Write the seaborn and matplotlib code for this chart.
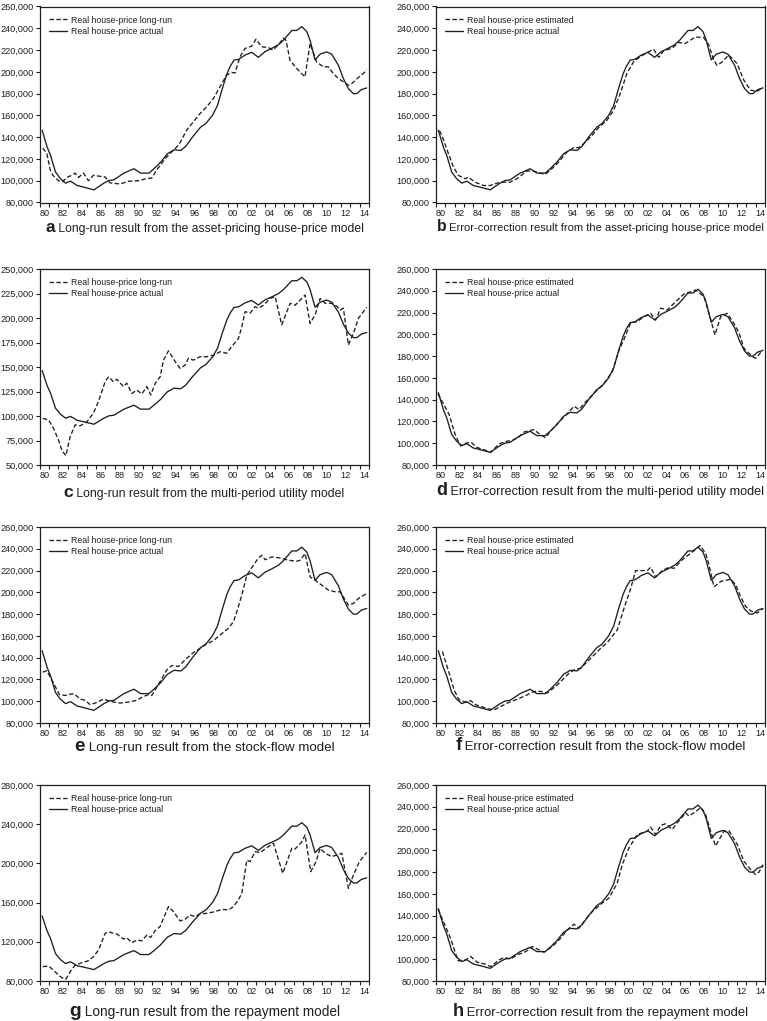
import matplotlib
matplotlib.use("Agg")
import matplotlib.pyplot as plt
import seaborn as sns
import numpy as np
from matplotlib.offsetbox import TextArea, HPacker, AnchoredOffsetbox
from matplotlib.ticker import FuncFormatter, FixedLocator

sns.set_style("ticks")
plt.rcParams["font.family"] = ["Liberation Sans", "DejaVu Sans"]

# ---------------- data (values in thousands of pounds) ----------------
actual_year = [1980.28, 1980.81, 1981.17, 1981.70, 1982.23, 1982.77, 1983.30, 1984.00, 1984.72, 1985.78,
               1986.84, 1987.38, 1987.90, 1988.97, 1990.03, 1990.74, 1991.63, 1992.16, 1992.87, 1993.58,
               1994.29, 1995.00, 1995.53, 1996.24, 1997.12, 1997.66, 1998.37, 1998.90, 1999.40, 1999.90,
               2000.25, 2000.66, 2001.15, 2001.83, 2002.54, 2003.25, 2003.95, 2004.66, 2005.40, 2005.91,
               2006.80, 2007.33, 2007.86, 2008.39, 2008.74, 2009.27, 2009.80, 2010.50, 2011.04, 2011.75,
               2012.28, 2012.81, 2013.34, 2013.70, 2014.20, 2014.76]
actual_value = [146.4, 131, 123.3, 108, 101.8, 97.8, 99.6, 95.6, 94.1, 91.6,
                97.8, 100.2, 100.8, 107, 111, 107, 107, 111, 117, 124.7,
                128.4, 127.8, 131.5, 140, 149.3, 152.4, 160, 169, 184, 198,
                205, 210.8, 211.4, 215.4, 217.9, 213.3, 218.5, 221.5, 225, 229,
                238, 238, 241.5, 237, 229, 211, 216.2, 218.3, 216.2, 206,
                193.8, 184.6, 180, 180, 183.7, 185.2]

# (a) asset-pricing, long-run
a_year = [1980.35, 1980.78, 1981.13, 1981.42, 1982.02, 1982.44, 1982.90, 1983.43, 1983.79, 1984.14,
          1984.67, 1985.20, 1985.73, 1986.44, 1986.97, 1987.50, 1988.57, 1989.45, 1990.51, 1991.40,
          1991.93, 1992.46, 1993.52, 1994.58, 1994.93, 1995.63, 1996.34, 1997.05, 1997.76, 1998.47,
          1999.17, 1999.88, 2000.41, 2000.77, 2001.30, 2001.83, 2002.54, 2003.00, 2003.60, 2004.30,
          2004.77, 2005.37, 2005.90, 2006.19, 2006.60, 2007.32, 2008.20, 2008.74, 2009.44, 2010.15,
          2010.68, 2011.20, 2011.75, 2012.28, 2012.81, 2013.16, 2013.87, 2014.40, 2014.76]
a_value = [130, 125, 110, 105, 100, 99, 103, 105, 107, 103,
           107, 100, 105, 104, 103.5, 98, 97, 99.5, 100, 102,
           102.5, 110, 122, 131, 135, 146.4, 154, 161.7, 167.9, 175.5,
           186.3, 197, 199.4, 199, 213.8, 221.5, 223.6, 230, 223, 222.4,
           220, 224.6, 231, 229, 210.7, 203, 195.4, 226, 209, 204.6,
           204.6, 198.5, 193.8, 190.8, 187.7, 189.2, 194.8, 198.5, 202]

# (b) asset-pricing, error-correction
b_year = [1980.40, 1980.64, 1981.35, 1981.88, 1982.41, 1983.12, 1983.47, 1984.18, 1985.07, 1985.78,
          1986.49, 1987.20, 1987.90, 1988.62, 1989.68, 1990.39, 1991.10, 1991.63, 1992.34, 1993.05,
          1993.93, 1994.64, 1995.18, 1995.71, 1996.60, 1997.30, 1998.19, 1998.90, 1999.60, 2000.31,
          2001.02, 2001.73, 2002.44, 2003.15, 2003.69, 2004.22, 2005.10, 2005.80, 2006.50, 2007.05,
          2007.58, 2008.47, 2009.00, 2009.53, 2009.88, 2010.42, 2011.12, 2012.00, 2012.72, 2013.42,
          2014.13, 2014.76]
b_value = [146, 142, 125, 112.6, 104.9, 101.8, 103.3, 98.7, 95.6, 95.6,
           97.8, 98.7, 98.7, 101.8, 108.9, 108.9, 107, 105.8, 111, 117,
           126.3, 130.3, 130.3, 134, 141.6, 148.7, 155.5, 164.7, 180, 198.5,
           209.3, 213.9, 217.6, 220.7, 213.3, 219.4, 221.6, 227, 226, 229,
           232, 231.5, 224.7, 211, 206, 209, 215.5, 207.7, 192.5, 183.3,
           182, 185.8]

# (c) multi-period utility, long-run
c_year = [1980.35, 1980.96, 1981.49, 1982.02, 1982.37, 1982.80, 1983.26, 1983.79, 1984.32, 1985.03,
          1985.73, 1986.27, 1986.97, 1987.33, 1987.86, 1988.21, 1988.92, 1989.27, 1989.81, 1990.34,
          1990.87, 1991.40, 1991.82, 1992.28, 1992.81, 1993.17, 1993.70, 1994.41, 1994.94, 1995.47,
          1995.82, 1996.35, 1997.06, 1997.77, 1998.48, 1999.19, 1999.89, 2000.43, 2001.13, 2001.49,
          2001.84, 2002.37, 2002.90, 2003.26, 2003.79, 2004.50, 2005.03, 2005.73, 2006.62, 2007.15,
          2007.86, 2008.21, 2008.74, 2009.27, 2009.81, 2010.34, 2011.04, 2011.58, 2011.93, 2012.28,
          2012.81, 2013.35, 2013.88, 2014.41, 2014.76]
c_value = [97.6, 96, 87.4, 75.5, 65, 59.5, 79, 91, 90, 94,
           103, 115, 135, 140, 135, 137.5, 130, 133.5, 123, 126.5,
           122.5, 130, 121.5, 133, 140, 157, 166.5, 155.5, 148.6, 152,
           159, 157, 160.5, 160.5, 162, 165.6, 164, 171, 179, 191,
           206.5, 205, 211.5, 210, 213, 220, 221.8, 193, 215, 213,
           220, 223.5, 194.5, 203, 220, 215, 215, 212, 208, 210,
           172.5, 184.4, 199.7, 206.5, 211]

# (d) multi-period utility, error-correction
d_year = [1980.25, 1981.42, 1982.12, 1982.65, 1983.19, 1983.72, 1984.42, 1985.49, 1985.84, 1986.73,
          1987.43, 1988.14, 1988.85, 1989.38, 1990.44, 1990.97, 1991.68, 1992.04, 1992.92, 1993.81,
          1994.69, 1995.22, 1995.93, 1996.81, 1997.88, 1998.76, 1999.47, 2000.00, 2000.71, 2001.42,
          2002.12, 2002.83, 2003.36, 2003.89, 2004.60, 2005.49, 2006.37, 2007.61, 2008.50, 2009.03,
          2009.66, 2010.27, 2010.97, 2011.68, 2012.21, 2012.74, 2013.63, 2013.98, 2014.76]
d_value = [145.4, 126.5, 106.6, 97.5, 100, 101, 96, 93, 91.5, 99.4,
           101.6, 102.6, 105.7, 110.3, 112.5, 108.8, 105, 109.4, 118, 125.7,
           134, 131, 138, 145.7, 155, 165.7, 185.6, 195.4, 210.7, 211.7,
           216.3, 219.3, 213, 224, 222.4, 230, 237, 240.7, 234.6, 219.3,
           199.4, 216.3, 219.3, 210, 201.6, 187.2, 179.5, 178, 185.6]

# (e) stock-flow, long-run
e_year = [1980.35, 1980.78, 1981.49, 1982.12, 1982.73, 1983.26, 1983.68, 1984.32, 1984.85, 1985.38,
          1986.09, 1986.80, 1987.50, 1988.57, 1989.45, 1990.34, 1991.04, 1991.58, 1991.93, 1992.81,
          1993.52, 1994.05, 1994.76, 1995.47, 1996.35, 1997.06, 1997.59, 1998.48, 1999.19, 2000.07,
          2000.60, 2000.96, 2001.49, 2002.02, 2002.73, 2003.26, 2003.61, 2003.96, 2004.67, 2005.56,
          2006.44, 2007.33, 2007.68, 2008.21, 2008.74, 2009.27, 2009.98, 2010.69, 2011.40, 2011.93,
          2012.81, 2013.35, 2013.88, 2014.76]
e_value = [126.7, 128, 116.6, 106, 105.3, 106.5, 106.9, 102, 100.8, 96.8,
           98.9, 102, 99.8, 98.3, 99.2, 100.8, 104.4, 106, 105.3, 118,
           128.8, 132.8, 131.9, 138, 144.7, 148.6, 151.7, 155.7, 160.9, 167,
           173, 182.2, 197.5, 215.8, 225, 231.6, 234, 230, 232.5, 231.6,
           229.5, 228.6, 229.5, 235.6, 214.2, 211.2, 206.6, 202, 200.5, 200.5,
           188.3, 189.8, 194.4, 199]

# (f) stock-flow, error-correction
f_year = [1980.71, 1981.42, 1981.95, 1982.48, 1983.19, 1983.72, 1984.25, 1985.49, 1986.19, 1987.61,
          1989.38, 1990.44, 1991.15, 1991.86, 1992.92, 1994.16, 1994.69, 1995.40, 1996.46, 1997.52,
          1998.23, 1999.29, 2000.00, 2000.71, 2001.24, 2002.48, 2002.83, 2003.36, 2004.07, 2004.78,
          2005.31, 2006.19, 2007.26, 2008.07, 2008.67, 2009.03, 2009.56, 2010.27, 2011.33, 2011.86,
          2012.39, 2012.92, 2013.45, 2014.16, 2014.76]
f_value = [145.6, 126, 110.5, 101.4, 99.2, 100.5, 96.8, 93.2, 92, 98.3,
           104.4, 109, 109, 107.5, 115, 125.7, 128.8, 130.3, 139.4, 148.6,
           153.9, 165.5, 185.3, 203.5, 220, 220, 223, 214, 220, 223,
           222, 230, 237, 243, 236, 225, 205, 210, 212, 207,
           196, 187, 183, 181, 185]

# (g) repayment, long-run
g_year = [1980.35, 1980.96, 1981.49, 1982.02, 1982.37, 1982.80, 1983.26, 1983.79, 1984.50, 1985.20,
          1985.73, 1986.27, 1986.97, 1987.33, 1987.86, 1988.21, 1988.92, 1989.27, 1989.81, 1990.34,
          1990.87, 1991.40, 1991.82, 1992.28, 1992.81, 1993.17, 1993.70, 1994.23, 1994.94, 1995.47,
          1996.00, 1996.53, 1997.06, 1997.77, 1998.65, 1999.36, 2000.07, 2000.60, 2001.13, 2001.49,
          2002.02, 2002.37, 2002.90, 2003.43, 2004.14, 2004.85, 2005.84, 2006.80, 2007.15, 2007.86,
          2008.21, 2008.81, 2009.38, 2009.81, 2010.34, 2011.04, 2011.58, 2012.11, 2012.81, 2013.35,
          2013.98, 2014.41, 2014.76]
g_value = [94.6, 95.3, 91, 86, 83.4, 81.7, 89.5, 96.3, 98.7, 100.7,
           104.8, 111.6, 128.6, 130.3, 128.6, 128, 122.8, 124.2, 119, 121.8,
           121, 126.9, 124.5, 131.3, 135.5, 144, 155.9, 150.8, 141.3, 143,
           147.4, 145.7, 148.7, 149, 150.8, 153.1, 152.5, 155.9, 162.9, 169.5,
           203.4, 201.8, 212, 211, 216, 220.5, 189.9, 215.4, 214.7, 222,
           229, 191.6, 201.8, 215.4, 210.3, 206.9, 208.6, 210.3, 174.6, 188.2,
           201.8, 206.9, 211.3]

# (h) repayment, error-correction
h_year = [1980.25, 1981.59, 1982.37, 1983.19, 1983.72, 1984.42, 1985.31, 1985.84, 1986.73, 1987.26,
          1987.96, 1988.67, 1989.56, 1990.27, 1990.97, 1991.50, 1992.39, 1993.27, 1993.98, 1994.69,
          1995.22, 1995.75, 1996.64, 1997.70, 1998.41, 1999.29, 1999.82, 2000.53, 2001.42, 2002.48,
          2002.83, 2003.36, 2003.89, 2004.42, 2005.13, 2005.66, 2006.55, 2006.90, 2007.43, 2008.14,
          2008.67, 2009.20, 2009.73, 2010.62, 2011.15, 2012.04, 2012.74, 2013.45, 2013.98, 2014.34,
          2014.76]
h_value = [146, 119, 98.5, 99.4, 102.5, 97.2, 95.4, 93.2, 99.4, 101.5,
           100.3, 104, 107, 111.7, 108.6, 106.4, 111.7, 119.3, 127, 132.2,
           128.5, 134.6, 143.9, 151.6, 156.2, 170, 186.9, 202.3, 214.5, 217.6,
           221.3, 214.5, 222.8, 224.4, 219.2, 225.3, 234.5, 231.4, 234.5, 239.1,
           233, 217.6, 204, 217.6, 218, 205.3, 190, 182.3, 177.7, 180,
           186.9]

letters = ["a", "b", "c", "d", "e", "f", "g", "h"]
captions = ["Long-run result from the asset-pricing house-price model",
            "Error-correction result from the asset-pricing house-price model",
            "Long-run result from the multi-period utility model",
            "Error-correction result from the multi-period utility model",
            "Long-run result from the stock-flow model",
            "Error-correction result from the stock-flow model",
            "Long-run result from the repayment model",
            "Error-correction result from the repayment model"]
label_longrun = "Real house-price long-run"
label_estimated = "Real house-price estimated"
label_actual = "Real house-price actual"
year_labels = ["80", "82", "84", "86", "88", "90", "92", "94", "96", "98",
               "00", "02", "04", "06", "08", "10", "12", "14"]

# ---------------- layout ----------------
W, H = 767, 1021
fig = plt.figure(figsize=(W / 100, H / 100), dpi=100)
fig.patch.set_facecolor("white")
renderer = fig.canvas.get_renderer()

ink = "#1e1e1e"
series = [(a_year, a_value), (b_year, b_value), (c_year, c_value), (d_year, d_value),
          (e_year, e_value), (f_year, f_value), (g_year, g_value), (h_year, h_value)]
ylims = [(80, 260, 20), (80, 260, 20), (50, 250, 25), (80, 260, 20),
         (80, 260, 20), (80, 260, 20), (80, 280, 40), (80, 260, 20)]
col_left = [39.5, 435.7]
col_w = 329.5
row_top = [6.5, 269, 527, 785]
ax_h = 196
cap_base = [232, 231, 497, 496, 752, 751, 1017, 1017]
cap_width = [305, 313, 269, 314, 248, 282, 255, 282]   # rendered caption widths in px


def fitted_size(s, target, base=10.0):
    t = fig.text(0, 0, s, fontsize=base)
    w = t.get_window_extent(renderer).width
    t.remove()
    return base * target / w


for i in range(8):
    r, c = divmod(i, 2)
    l, t = col_left[c], row_top[r]
    ax = fig.add_axes([l / W, 1 - (t + ax_h) / H, col_w / W, ax_h / H])
    yrs, vals = series[i]
    est_label = label_estimated if c == 1 else label_longrun
    sns.lineplot(x=yrs, y=np.array(vals) * 1000, ax=ax, color=ink, lw=0.95,
                 linestyle=(0, (3.4, 1.8)), label=est_label, estimator=None, sort=False)
    sns.lineplot(x=actual_year, y=np.array(actual_value) * 1000, ax=ax, color=ink, lw=0.95,
                 label=label_actual, estimator=None, sort=False)

    lo, hi, st = ylims[i]
    ax.set_xlim(1980, 2015)
    ax.set_ylim(lo * 1000, hi * 1000)
    ax.yaxis.set_major_locator(FixedLocator(np.arange(lo, hi + 1, st) * 1000))
    ax.yaxis.set_major_formatter(FuncFormatter(lambda v, p: f"{v:,.0f}"))
    ax.xaxis.set_major_locator(FixedLocator(np.arange(1980, 2016)))
    ax.xaxis.set_major_formatter(FuncFormatter(lambda v, p: ""))
    ax.xaxis.set_minor_locator(FixedLocator(np.arange(1980, 2015, 2) + 0.5))
    ax.xaxis.set_minor_formatter(FuncFormatter(lambda v, p: year_labels[int(round((v - 1980.5) / 2))]))
    ax.tick_params(axis="x", which="major", length=3, width=0.8, direction="out", color=ink,
                   top=False, bottom=True)
    ax.tick_params(axis="x", which="minor", length=0, pad=4.5, labelsize=6.6, labelcolor=ink)
    ax.tick_params(axis="y", which="major", length=3, width=0.8, direction="out", color=ink,
                   pad=1.2, labelsize=6.6, labelcolor=ink, right=False, left=True)
    ax.set_xlabel("")
    ax.set_ylabel("")
    for s in ax.spines.values():
        s.set_color(ink)
        s.set_linewidth(0.9)
        s.set_visible(True)

    leg = ax.legend(loc="upper left", bbox_to_anchor=(9.5 / col_w, 1 - 9.0 / ax_h),
                    frameon=False, fontsize=6.3, handlelength=2.0, handletextpad=0.5,
                    labelspacing=0.25, borderpad=0, borderaxespad=0)
    for txt in leg.get_texts():
        txt.set_color(ink)

    # caption: bold letter + text, centred below the panel
    fs = fitted_size(captions[i], cap_width[i])
    box = HPacker(children=[TextArea(letters[i], textprops=dict(fontsize=fs * 1.42, fontweight="bold", color=ink)),
                            TextArea(" " + captions[i], textprops=dict(fontsize=fs, color=ink))],
                  align="baseline", pad=0, sep=0)
    cx = (l + col_w / 2) / W
    cy = 1 - (cap_base[i] + 3.2) / H
    anch = AnchoredOffsetbox(loc="lower center", child=box, pad=0, borderpad=0, frameon=False,
                             bbox_to_anchor=(cx, cy), bbox_transform=fig.transFigure)
    fig.add_artist(anch)

fig.savefig("out.png", dpi=100, facecolor="white")
